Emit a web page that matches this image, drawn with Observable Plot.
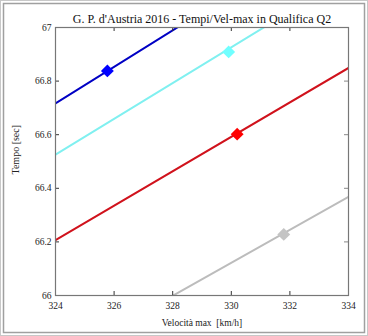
<!DOCTYPE html>
<html>
<head>
<meta charset="utf-8">
<script src="https://cdn.jsdelivr.net/npm/d3@7"></script>
<script src="https://cdn.jsdelivr.net/npm/@observablehq/plot@0.6"></script>
<style>
  html, body { margin: 0; padding: 0; background: #fff; }
  #chart { position: relative; width: 368px; height: 336px; }
</style>
</head>
<body>
<div id="chart"></div>
<script>
// ---- data ----
const title = "G. P. d'Austria 2016 - Tempi/Vel-max in Qualifica Q2";
const xLabel = "Velocità max  [km/h]";
const yLabel = "Tempo [sec]";
const xTicks = [324, 326, 328, 330, 332, 334];
const yTicks = [66, 66.2, 66.4, 66.6, 66.8, 67];
const yTickLabels = ["66", "66.2", "66.4", "66.6", "66.8", "67"];

const series = ["blu", "azzurro", "rosso", "grigio"];
const lineSpeed = [324, 334];                 // line end speeds
const lineTimeBlue = [66.717, 67.398];
const lineTimeCyan = [66.526, 67.193];
const lineTimeRed = [66.207, 66.849];
const lineTimeGray = [65.753, 66.368];
const markerSpeed = [325.77, 329.91, 330.20, 331.79];
const markerTime = [66.838, 66.909, 66.602, 66.228];
const lineColors = ["#0000c4", "#80f0f0", "#d0121c", "#bcbcbc"];
const markerColors = ["#0000ff", "#70ffff", "#ff0000", "#c4c4c4"];

const lineTimes = [lineTimeBlue, lineTimeCyan, lineTimeRed, lineTimeGray];
const lineRows = series.flatMap((s, i) =>
  lineSpeed.map((v, j) => ({s, v, t: lineTimes[i][j]})));
const markerRows = series.map((s, i) => ({s, v: markerSpeed[i], t: markerTime[i]}));

const font = "'Liberation Serif', 'DejaVu Serif', serif";
const W = 368, H = 336;
const mL = 55, mR = 20, mT = 27, mB = 41;
const frameW = W - mL - mR, frameH = H - mT - mB;

const plot = Plot.plot({
  width: W,
  height: H,
  marginLeft: mL,
  marginRight: mR,
  marginTop: mT,
  marginBottom: mB,
  style: {fontFamily: font, fontSize: "9px", color: "#222", background: "#fff"},
  x: {domain: [324, 334], ticks: xTicks},
  y: {domain: [66, 67], ticks: yTicks},
  marks: [
    Plot.line(lineRows, {x: "v", y: "t", z: "s", stroke: (d) => lineColors[series.indexOf(d.s)], strokeWidth: 2, clip: true}),
    Plot.dot(markerRows, {x: "v", y: "t", symbol: "diamond2", r: 5.8, fill: (d) => markerColors[series.indexOf(d.s)], stroke: "none", clip: true}),
    // inward ticks on all four sides
    Plot.ruleX(xTicks, {x: (d) => d, insetTop: frameH - 4, stroke: "#333"}),
    Plot.ruleX(xTicks, {x: (d) => d, insetBottom: frameH - 4, stroke: "#333"}),
    Plot.ruleY(yTicks, {y: (d) => d, insetRight: frameW - 4, stroke: "#333"}),
    Plot.ruleY(yTicks, {y: (d) => d, insetLeft: frameW - 4, stroke: "#888"}),
    Plot.axisX({ticks: xTicks, tickSize: 0, tickPadding: 7, label: null, fontSize: 9.5}),
    Plot.axisY({ticks: yTicks, tickSize: 0, tickPadding: 4, label: null, fontSize: 9.5,
      tickFormat: (d) => yTickLabels[yTicks.indexOf(d)]}),
    Plot.frame({stroke: "#777", strokeWidth: 1.2}),
    Plot.text([title], {text: (d) => d, frameAnchor: "top", dy: -13, fontSize: 12, fill: "#111"}),
    Plot.text([xLabel], {text: (d) => d, frameAnchor: "bottom", dy: 30, fontSize: 9.5, fill: "#222"}),
    Plot.text([yLabel], {text: (d) => d, frameAnchor: "left", dx: -40, dy: 13, rotate: -90, fontSize: 10, fill: "#222"})
  ]
});

document.getElementById("chart").appendChild(plot);

// figure border (MATLAB-like panel)
const svg = d3.select(plot);
svg.append("rect").attr("x", 0.5).attr("y", 0.5).attr("width", W - 1).attr("height", H - 1)
  .attr("fill", "none").attr("stroke", "#c8c8c8").attr("stroke-width", 1);
svg.append("rect").attr("x", 3.5).attr("y", 3.5).attr("width", W - 7).attr("height", H - 7)
  .attr("fill", "none").attr("stroke", "#a0a0a0").attr("stroke-width", 1.5);
</script>
</body>
</html>
